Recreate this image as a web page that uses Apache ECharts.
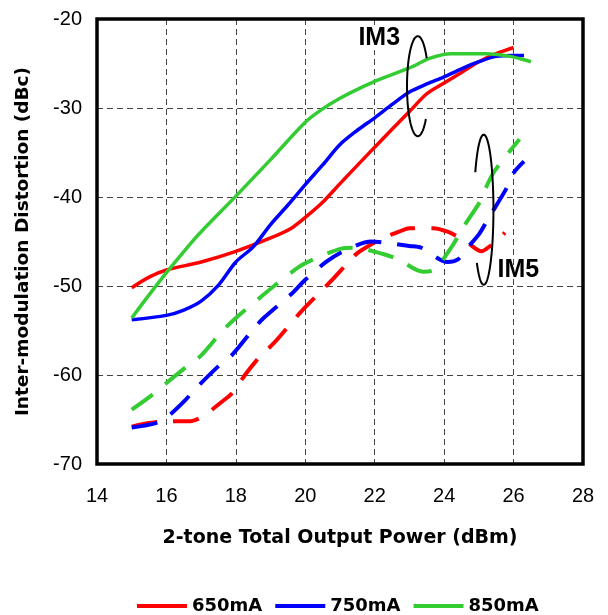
<!DOCTYPE html>
<html><head><meta charset="utf-8">
<script src="https://cdn.jsdelivr.net/npm/echarts@6/dist/echarts.min.js"></script>
<style>html,body{margin:0;padding:0;background:#fff}#c{width:608px;height:615px}</style>
</head><body><div id="c"></div>
<script>
// ---- data ----
const seriesNames = ['650mA', '750mA', '850mA'];
const seriesColors = ['#ff0000', '#0000ff', '#33cc33'];
const xTicks = [14, 16, 18, 20, 22, 24, 26, 28];
const yTicks = [-70, -60, -50, -40, -30, -20];

const im3_650 = [[15,-50.2],[15.5,-49.0],[16,-48.2],[17,-47.3],[18,-46.1],[19,-44.6],[19.6,-43.5],[20,-42.3],[20.5,-40.6],[21,-38.5],[22,-34.4],[23,-30.4],[23.5,-28.4],[24,-27.2],[24.5,-26.0],[25,-24.8],[25.5,-23.9],[26,-23.2]];
const im3_750 = [[15,-53.8],[16,-53.3],[16.5,-52.7],[17,-51.7],[17.5,-49.9],[18,-47.3],[18.5,-45.6],[19,-43.1],[19.5,-40.9],[20,-38.6],[20.5,-36.4],[21,-34.1],[21.5,-32.5],[22,-31.1],[22.5,-29.6],[23,-28.2],[23.5,-27.3],[24,-26.5],[24.5,-25.6],[25,-24.8],[25.5,-24.2],[26,-24.1],[26.3,-24.1]];
const im3_850 = [[15,-53.6],[15.5,-51.0],[16,-48.5],[16.7,-45.2],[17,-43.9],[18,-39.9],[19,-35.8],[20,-31.6],[20.5,-30.1],[21,-28.9],[21.5,-27.9],[22,-27.0],[23,-25.5],[23.6,-24.4],[24.2,-23.9],[25.2,-23.9],[25.9,-24.2],[26.5,-24.8]];

const im5_650 = [[15,-65.8],[15.5,-65.4],[16,-65.2],[16.7,-65.2],[17.2,-64.2],[17.6,-63.0],[17.9,-62.0],[18.3,-59.8],[18.7,-57.9],[19.1,-56.4],[19.5,-54.6],[19.9,-52.8],[20.4,-50.8],[20.8,-49.2],[21.2,-47.5],[21.5,-46.3],[21.95,-45.2],[22.3,-44.5],[22.7,-43.9],[23,-43.5],[23.7,-43.5],[24.1,-43.9],[24.4,-44.5],[24.7,-45.2],[25.07,-46.1],[25.36,-45.4],[25.5,-45.0],[25.75,-44.0]];
const im5_750 = [[15,-65.9],[15.7,-65.4],[16,-64.8],[16.5,-63.0],[16.9,-61.3],[17.5,-59.0],[17.9,-57.7],[18.45,-55.1],[18.8,-53.6],[19.6,-50.9],[20,-49.3],[20.6,-47.3],[21.1,-46.1],[21.9,-45.0],[22.24,-45.1],[23,-45.5],[23.34,-45.7],[24.1,-47.3],[24.4,-47.0],[24.6,-46.0],[25,-44.2],[25.26,-42.5],[25.8,-39.0],[26,-37.3],[26.3,-36.0]];
const im5_850 = [[15,-63.9],[15.6,-62.2],[16,-60.9],[16.6,-59.0],[17,-57.8],[17.6,-55.1],[18,-53.6],[18.7,-51.3],[19.1,-50.0],[19.84,-47.8],[20.3,-46.9],[21.04,-45.8],[21.4,-45.7],[22.24,-46.4],[22.67,-47.0],[23.4,-48.4],[23.7,-48.2],[24.25,-45.4],[24.5,-43.7],[25.07,-40.3],[25.2,-39.0],[25.45,-37.1],[26.17,-33.5]];

const im3Sets = [im3_650, im3_750, im3_850];
const im5Sets = [im5_650, im5_750, im5_850];

// annotation labels (data coords)
const labelIM3 = {text: 'IM3', at: [22.13, -22.1]};
const labelIM5 = {text: 'IM5', at: [26.14, -48.26]};
const loopIM3 = {c: [23.24, -27.55], r: [0.31, 5.62], from: 41, to: 327};
const loopIM5 = {c: [25.14, -41.43], r: [0.28, 8.43], from: -150, to: 136};

const chart = echarts.init(document.getElementById('c'), null, {renderer: 'canvas'});
const FONT = '"Liberation Sans", Arial, sans-serif';
const BFONT = '"DejaVu Sans", sans-serif';

const series = [];
im3Sets.forEach((d, i) => series.push({
  name: seriesNames[i], type: 'line', data: d, symbol: 'none', smooth: 0.3,
  lineStyle: {color: seriesColors[i], width: 3.5}, itemStyle: {color: seriesColors[i]},
  emphasis: {disabled: true}, z: 3
}));
im5Sets.forEach((d, i) => series.push({
  name: seriesNames[i], type: 'line', data: d, symbol: 'none', smooth: 0.3,
  lineStyle: {color: seriesColors[i], width: 4, type: [26, 16]}, itemStyle: {color: seriesColors[i]},
  emphasis: {disabled: true}, z: 3
}));

chart.setOption({
  animation: false,
  backgroundColor: '#fff',
  grid: {left: 97, top: 19, right: 25, bottom: 151, show: true, borderColor: '#000', borderWidth: 3.5,
         backgroundColor: 'transparent', z: 10, containLabel: false, outerBoundsMode: 'none'},
  legend: {
    data: seriesNames, top: 592, left: 132, icon: 'rect', itemWidth: 50, itemHeight: 4, itemGap: 13,
    textStyle: {fontFamily: BFONT, fontWeight: 'bold', fontSize: 18, color: '#000'}
  },
  xAxis: {
    type: 'value', min: xTicks[0], max: xTicks[xTicks.length - 1], interval: 2,
    name: '2-tone Total Output Power (dBm)', nameLocation: 'middle', nameGap: 65,
    nameTextStyle: {fontFamily: BFONT, fontWeight: 'bold', fontSize: 19, color: '#000'},
    axisLine: {show: false}, axisTick: {show: false},
    axisLabel: {fontFamily: FONT, fontSize: 20, color: '#000', margin: 22},
    splitLine: {show: true, lineStyle: {color: '#444', width: 1, type: [6, 4]}}
  },
  yAxis: {
    type: 'value', min: yTicks[0], max: yTicks[yTicks.length - 1], interval: 10,
    name: 'Inter-modulation Distortion (dBc)', nameLocation: 'middle', nameGap: 64, nameRotate: 90,
    nameTextStyle: {fontFamily: BFONT, fontWeight: 'bold', fontSize: 18.5, color: '#000'},
    axisLine: {show: false}, axisTick: {show: false},
    axisLabel: {fontFamily: FONT, fontSize: 20, color: '#000', margin: 15},
    splitLine: {show: true, lineStyle: {color: '#444', width: 1, type: [6, 4]}}
  },
  series: series
});

function toPx(p) { return chart.convertToPixel({gridIndex: 0}, p); }
function loopPoints(loop) {
  const c = toPx(loop.c);
  const e = toPx([loop.c[0] + loop.r[0], loop.c[1] - loop.r[1]]);
  const rx = e[0] - c[0], ry = e[1] - c[1];
  const pts = [];
  for (let a = loop.from; a <= loop.to; a += 3) {
    const t = a * Math.PI / 180;
    pts.push([c[0] + rx * Math.cos(t), c[1] + ry * Math.sin(t)]);
  }
  return pts;
}
const p3 = toPx(labelIM3.at), p5 = toPx(labelIM5.at);
chart.setOption({
  graphic: [
    {type: 'polyline', shape: {points: loopPoints(loopIM3), smooth: 0}, style: {stroke: '#000', lineWidth: 2, fill: null}, z: 20},
    {type: 'polyline', shape: {points: loopPoints(loopIM5), smooth: 0}, style: {stroke: '#000', lineWidth: 2, fill: null}, z: 20},
    {type: 'text', x: p3[0], y: p3[1], style: {text: labelIM3.text, font: 'bold 25px ' + FONT, fill: '#000', align: 'center', verticalAlign: 'middle', backgroundColor: '#fff'}, z: 21},
    {type: 'text', x: p5[0], y: p5[1], style: {text: labelIM5.text, font: 'bold 25px ' + FONT, fill: '#000', align: 'center', verticalAlign: 'middle'}, z: 21}
  ]
});
</script>
</body></html>
